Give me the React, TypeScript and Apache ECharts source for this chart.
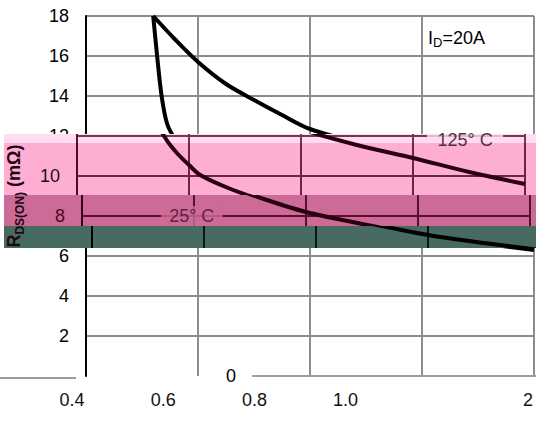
import React, { useEffect, useRef } from "react";
import * as echarts from "echarts";

const W = 536;
const H = 421;
const FONT = "'Liberation Sans', Arial, Helvetica, sans-serif";

// ---- data ----
const vgsMin = 2;
const vgsMax = 10;
const vgsStep = 2;
const rdsMin = 0;
const rdsMax = 18;
const rdsStep = 2;
const xTickLabels = ["0.4", "0.6", "0.8", "1.0", "", "2"];
const curve25C: [number, number][] = [
  [3.2, 18], [3.27, 16], [3.35, 14], [3.45, 12.6], [3.6, 11.8], [3.8, 11.1],
  [4.0, 10.55], [4.2, 10.05], [4.7, 9.4], [5.3, 8.8], [6, 8.2], [7, 7.6],
  [8, 7.05], [9, 6.65], [10, 6.3],
];
const curve125C: [number, number][] = [
  [3.2, 18], [3.6, 16.8], [4, 15.7], [4.5, 14.6], [5, 13.8], [5.5, 13.05],
  [6, 12.35], [7, 11.55], [8, 10.9], [9, 10.2], [10, 9.6],
];
const noteNames = ["25° C", "125° C"];
const notePoints: [number, number][] = [[3.96, 8], [8.93, 11.8]];
const yAxisTitle = "{r|R}{s|DS(ON)}{r| (mΩ)}";
const conditionText = "{a|I}{b|D}{a|=20A}";

type Mode = "main" | "band" | "strip" | "text";
type Theme = { bg: string; grid: string; axis: string; text: string; curve: string; labelBg: string };
type Panel = {
  key: string;
  mode: Mode;
  theme: Theme;
  clip?: { x: number; y: number; w: number; h: number };
  dx: number;
  dy: number;
  yLabels: number[];
  notes: number[];
  boxes: number[];
};

const whiteTheme: Theme = { bg: "#ffffff", grid: "#8c8c8c", axis: "#000000", text: "#000000", curve: "#000000", labelBg: "#ffffff" };
const lightTheme: Theme = { bg: "#ffdcef", grid: "#7a3555", axis: "#5a1030", text: "#2b0a1a", curve: "#2a0010", labelBg: "#ffdcef" };
const pinkTheme: Theme = { bg: "#ffaed3", grid: "#6e2447", axis: "#4a0a28", text: "#2b0a1a", curve: "#2a0010", labelBg: "#ffaed3" };
const dpinkTheme: Theme = { bg: "#cc6a98", grid: "#5a0f32", axis: "#3a0018", text: "#4a0b26", curve: "#2a0010", labelBg: "#cc6a98" };
const greenTheme: Theme = { bg: "#476a61", grid: "#0b1512", axis: "#000000", text: "#000000", curve: "#000000", labelBg: "#476a61" };
const stripTheme: Theme = { bg: "transparent", grid: "#8c8c8c", axis: "#000000", text: "#000000", curve: "#000000", labelBg: "#ffffff" };
const textTheme: Theme = { bg: "transparent", grid: "#8c8c8c", axis: "#000000", text: "#1e0612", curve: "#000000", labelBg: "transparent" };

const panels: Panel[] = [
  { key: "main", mode: "main", theme: whiteTheme, dx: 0, dy: 0, yLabels: [2, 4, 6, 12, 14, 16, 18], notes: [], boxes: [] },
  { key: "light", mode: "band", theme: lightTheme, clip: { x: 4, y: 134, w: 532, h: 9 }, dx: -9, dy: 0, yLabels: [], notes: [], boxes: [1] },
  { key: "pink", mode: "band", theme: pinkTheme, clip: { x: 4, y: 143, w: 532, h: 52 }, dx: -9, dy: 0, yLabels: [10], notes: [], boxes: [1] },
  { key: "dpink", mode: "band", theme: dpinkTheme, clip: { x: 4, y: 195, w: 532, h: 31 }, dx: -4, dy: 0, yLabels: [8], notes: [0], boxes: [] },
  { key: "green", mode: "band", theme: greenTheme, clip: { x: 4, y: 226, w: 532, h: 22 }, dx: 6, dy: 0, yLabels: [], notes: [], boxes: [] },
  { key: "stripA", mode: "strip", theme: stripTheme, clip: { x: 199, y: 366, w: 337, h: 20 }, dx: 167, dy: 0, yLabels: [0], notes: [], boxes: [] },
  { key: "stripB", mode: "strip", theme: stripTheme, clip: { x: 0, y: 376, w: 76, h: 5 }, dx: -369, dy: 2, yLabels: [], notes: [], boxes: [] },
  { key: "text", mode: "text", theme: textTheme, dx: 0, dy: 0, yLabels: [], notes: [1], boxes: [] },
];

function buildOption(p: Panel): any {
  const t = p.theme;
  const isMain = p.mode === "main";
  const isStrip = p.mode === "strip";
  const isText = p.mode === "text";
  const drawGrid = p.mode === "main" || p.mode === "band";

  const grid: any[] = [{ left: 86, right: W - 534, top: 16, height: 360, outerBoundsMode: "none" }];
  const xAxis: any[] = [
    {
      type: "value", gridIndex: 0, min: vgsMin, max: vgsMax, interval: vgsStep,
      axisLine: { show: isStrip, onZero: false, lineStyle: { color: "#9c9c9c", width: 2 } },
      axisTick: { show: false },
      axisLabel: { show: false },
      splitLine: { show: drawGrid, showMinLine: false, showMaxLine: true, lineStyle: { color: t.grid, width: 2 } },
    },
  ];
  const yAxis: any[] = [
    {
      type: "value", gridIndex: 0, min: rdsMin, max: rdsMax, interval: rdsStep,
      name: isText ? yAxisTitle : "",
      nameLocation: "middle", nameGap: 60, nameRotate: 90,
      nameTextStyle: {
        color: t.text, fontFamily: FONT,
        rich: {
          r: { fontSize: 18, fontWeight: "bold", lineHeight: 24, color: t.text, fontFamily: FONT },
          s: { fontSize: 12, fontWeight: "bold", lineHeight: 10, verticalAlign: "bottom", color: t.text, fontFamily: FONT },
        },
      },
      axisLine: { show: drawGrid, lineStyle: { color: t.axis, width: 2 } },
      axisTick: { show: false },
      axisLabel: {
        show: !isText,
        margin: 17, fontSize: 18, color: t.text, fontFamily: FONT,
        formatter: (v: number) => (p.yLabels.includes(v) ? String(v) : ""),
      },
      splitLine: { show: drawGrid, showMinLine: false, showMaxLine: true, lineStyle: { color: t.grid, width: 2 } },
    },
  ];
  const series: any[] = [];
  if (drawGrid) {
    [curve25C, curve125C].forEach((c, i) => {
      series.push({
        type: "line", name: i === 0 ? "25" : "125", xAxisIndex: 0, yAxisIndex: 0, data: c,
        smooth: 0.3, showSymbol: false, symbol: "none", silent: true,
        lineStyle: { color: t.curve, width: 4 }, z: 3,
      });
    });
  }
  if (p.boxes.length) {
    series.push({
      type: "scatter", xAxisIndex: 0, yAxisIndex: 0, silent: true, symbol: "rect", symbolSize: [76, 22], z: 4,
      itemStyle: { color: t.labelBg },
      data: p.boxes.map((i) => notePoints[i]),
    });
  }
  if (p.notes.length) {
    series.push({
      type: "scatter", xAxisIndex: 0, yAxisIndex: 0, silent: true, symbolSize: 1, z: 5,
      itemStyle: { color: "rgba(0,0,0,0)" },
      data: p.notes.map((i) => ({ name: noteNames[i], value: notePoints[i] })),
      label: {
        show: true, position: "inside", formatter: "{b}", fontSize: 18, fontFamily: FONT,
        color: t.text, backgroundColor: t.labelBg, padding: [1, 8, 1, 8],
        offset: isText ? [-9, 0] : [0, 0],
      },
    });
  }
  if (isMain) {
    grid.push({ left: 72, right: W - 528, top: 379, height: 2, outerBoundsMode: "none" });
    xAxis.push({
      type: "category", gridIndex: 1, data: xTickLabels, boundaryGap: false,
      axisLine: { show: false }, axisTick: { show: false }, splitLine: { show: false },
      axisLabel: { interval: 0, margin: 10, fontSize: 18, color: "#111", fontFamily: FONT },
    });
    yAxis.push({ type: "value", gridIndex: 1, show: false });
  }
  return {
    animation: false,
    backgroundColor: "transparent",
    textStyle: { fontFamily: FONT },
    grid, xAxis, yAxis, series,
    graphic: isMain
      ? [
          {
            type: "text", left: 428, top: 29, z: 10,
            style: {
              text: conditionText,
              rich: {
                a: { fontSize: 18, fontFamily: FONT, fill: "#000", lineHeight: 22 },
                b: { fontSize: 13, fontFamily: FONT, fill: "#000", lineHeight: 9, verticalAlign: "bottom" },
              },
            },
          },
        ]
      : [],
  };
}

export default function App() {
  const refs = useRef<(HTMLDivElement | null)[]>([]);
  useEffect(() => {
    const charts = panels.map((p, i) => {
      const el = refs.current[i] as HTMLDivElement;
      const c = echarts.init(el, undefined, { renderer: "svg", width: W, height: H });
      c.setOption(buildOption(p));
      return c;
    });
    return () => charts.forEach((c) => c.dispose());
  }, []);
  return (
    <div style={{ position: "absolute", left: 0, top: 0, width: W, height: H, overflow: "hidden", background: "#fff" }}>
      {panels.map((p, i) =>
        p.clip ? (
          <div
            key={p.key}
            style={{ position: "absolute", left: p.clip.x, top: p.clip.y, width: p.clip.w, height: p.clip.h, overflow: "hidden", background: p.theme.bg }}
          >
            <div
              ref={(el) => { refs.current[i] = el; }}
              style={{ position: "absolute", left: -p.clip.x + p.dx, top: -p.clip.y + p.dy, width: W, height: H }}
            />
          </div>
        ) : (
          <div
            key={p.key}
            ref={(el) => { refs.current[i] = el; }}
            style={{ position: "absolute", left: p.dx, top: p.dy, width: W, height: H }}
          />
        )
      )}
    </div>
  );
}
